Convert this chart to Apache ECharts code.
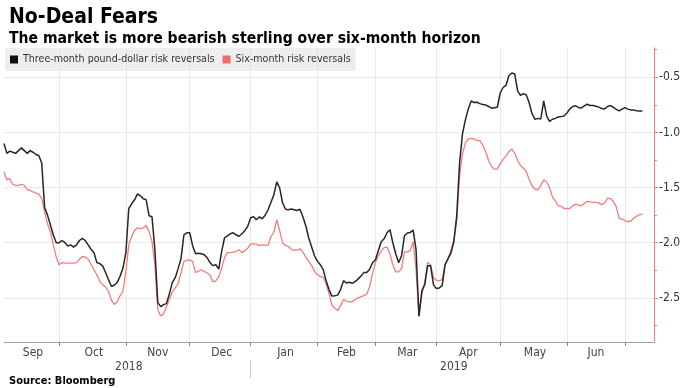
<!DOCTYPE html>
<html><head><meta charset="utf-8">
<script src="https://cdn.jsdelivr.net/npm/echarts@6/dist/echarts.min.js"></script>
<style>html,body{margin:0;padding:0;background:#fff}#c{width:693px;height:388px}</style>
</head><body><div id="c"></div>
<script>
// ---- data ----
const startDate = '2018-09-04';
const endDate = '2019-07-15';
const monthNames = ['Jan','Feb','Mar','Apr','May','Jun','Jul','Aug','Sep','Oct','Nov','Dec'];
const seriesNames = ['Three-month pound-dollar risk reversals', 'Six-month risk reversals'];
const threeMonth = [
-1.10,-1.19,-1.17,-1.18,-1.19,-1.165,-1.14,-1.165,-1.19,-1.165,
-1.18,-1.20,-1.21,-1.28,-1.68,-1.75,-1.84,-1.93,-2.00,-2.00,
-1.98,-2.00,-2.03,-2.02,-2.04,-2.02,-1.98,-1.96,-1.98,-2.02,
-2.06,-2.09,-2.18,-2.19,-2.21,-2.27,-2.335,-2.395,-2.385,-2.36,
-2.305,-2.23,-2.09,-1.69,-1.647,-1.611,-1.557,-1.575,-1.602,-1.611,
-1.756,-1.765,-2.063,-2.543,-2.579,-2.561,-2.552,-2.462,-2.362,-2.317,
-2.235,-2.145,-1.928,-1.91,-1.91,-2.027,-2.10,-2.095,-2.10,-2.109,
-2.136,-2.181,-2.208,-2.199,-2.24,-2.081,-1.955,-1.937,-1.919,-1.91,
-1.928,-1.941,-1.919,-1.891,-1.851,-1.774,-1.765,-1.792,-1.765,-1.783,
-1.751,-1.701,-1.633,-1.566,-1.448,-1.502,-1.638,-1.697,-1.701,-1.695,
-1.701,-1.708,-1.697,-1.765,-1.846,-1.955,-2.036,-2.118,-2.167,-2.199,
-2.244,-2.344,-2.425,-2.484,-2.48,-2.475,-2.425,-2.344,-2.365,-2.359,
-2.368,-2.353,-2.33,-2.303,-2.271,-2.269,-2.24,-2.181,-2.154,-2.072,
-1.991,-1.964,-1.91,-1.882,-2.0,-2.10,-2.181,-2.118,-1.937,-1.912,
-1.907,-1.886,-2.063,-2.667,-2.434,-2.38,-2.208,-2.208,-2.38,-2.416,
-2.41,-2.389,-2.199,-2.145,-2.095,-1.991,-1.762,-1.276,-1.014,-0.887,
-0.787,-0.715,-0.73,-0.727,-0.739,-0.747,-0.751,-0.765,-0.781,-0.776,
-0.772,-0.643,-0.593,-0.573,-0.484,-0.462,-0.471,-0.624,-0.665,-0.649,
-0.661,-0.733,-0.833,-0.882,-0.873,-0.878,-0.715,-0.851,-0.90,-0.881,
-0.873,-0.86,-0.857,-0.851,-0.824,-0.787,-0.765,-0.759,-0.774,-0.778,
-0.76,-0.745,-0.756,-0.757,-0.763,-0.771,-0.783,-0.787,-0.765,-0.757,
-0.772,-0.792,-0.805,-0.789,-0.776,-0.789,-0.796,-0.796,-0.804,-0.805,
-0.805
];
const sixMonth = [
-1.36,-1.43,-1.42,-1.47,-1.48,-1.48,-1.47,-1.48,-1.52,-1.525,
-1.54,-1.55,-1.56,-1.60,-1.72,-1.83,-1.90,-2.02,-2.13,-2.20,
-2.18,-2.185,-2.185,-2.185,-2.185,-2.18,-2.15,-2.125,-2.13,-2.15,
-2.195,-2.245,-2.29,-2.35,-2.38,-2.40,-2.44,-2.52,-2.56,-2.535,
-2.48,-2.44,-2.26,-2.02,-1.94,-1.89,-1.865,-1.875,-1.865,-1.845,
-1.90,-1.99,-2.20,-2.605,-2.665,-2.645,-2.58,-2.515,-2.445,-2.41,
-2.37,-2.27,-2.17,-2.16,-2.155,-2.17,-2.27,-2.26,-2.245,-2.26,
-2.275,-2.295,-2.355,-2.345,-2.31,-2.23,-2.135,-2.09,-2.09,-2.085,
-2.08,-2.065,-2.09,-2.07,-2.05,-2.01,-2.01,-2.015,-2.025,-2.02,
-2.025,-2.02,-1.945,-1.905,-1.79,-1.89,-2.00,-2.025,-2.035,-2.06,
-2.07,-2.065,-2.055,-2.085,-2.13,-2.17,-2.205,-2.26,-2.29,-2.305,
-2.315,-2.37,-2.46,-2.565,-2.595,-2.615,-2.57,-2.515,-2.53,-2.535,
-2.535,-2.515,-2.50,-2.49,-2.48,-2.465,-2.40,-2.28,-2.18,-2.12,
-2.075,-2.045,-2.04,-2.10,-2.20,-2.265,-2.265,-2.235,-2.08,-2.085,
-2.07,-1.99,-2.245,-2.665,-2.47,-2.355,-2.18,-2.20,-2.315,-2.34,
-2.345,-2.335,-2.20,-2.15,-2.07,-1.985,-1.81,-1.395,-1.195,-1.095,
-1.06,-1.055,-1.06,-1.075,-1.075,-1.115,-1.175,-1.255,-1.31,-1.335,
-1.33,-1.285,-1.245,-1.215,-1.175,-1.15,-1.19,-1.255,-1.30,-1.325,
-1.355,-1.43,-1.485,-1.515,-1.52,-1.48,-1.43,-1.45,-1.50,-1.585,
-1.62,-1.665,-1.67,-1.69,-1.69,-1.69,-1.665,-1.65,-1.66,-1.665,
-1.645,-1.625,-1.63,-1.635,-1.635,-1.64,-1.655,-1.64,-1.595,-1.60,
-1.625,-1.675,-1.78,-1.785,-1.80,-1.81,-1.805,-1.775,-1.76,-1.745,
-1.74
];
const yMajorTicks = [-2.5, -2.0, -1.5, -1.0, -0.5];
const yMinorTicks = [-2.75, -2.25, -1.75, -1.25, -0.75, -0.25];
const yMin = -2.9, yMax = -0.235;

// ---- weekday categories ----
function weekdays(s, e) {
  const out = [];
  let d = new Date(s + 'T00:00:00Z');
  const end = new Date(e + 'T00:00:00Z');
  while (d <= end) {
    const w = d.getUTCDay();
    if (w !== 0 && w !== 6) out.push(d.toISOString().slice(0, 10));
    d = new Date(d.getTime() + 86400000);
  }
  return out;
}
const categories = weekdays(startDate, endDate);
const last = categories.length - 1;

// month segments
const monthStarts = [];
const yearStarts = [];
categories.forEach((c, i) => {
  if (i > 0 && c.slice(5, 7) !== categories[i - 1].slice(5, 7)) monthStarts.push(i);
  if (i > 0 && c.slice(0, 4) !== categories[i - 1].slice(0, 4)) yearStarts.push(i);
});
const monthStartSet = new Set(monthStarts);
const monthLabelSet = new Set();
const mb = [0].concat(monthStarts, [last]);
for (let k = 0; k < mb.length - 1; k++) {
  if (mb[k + 1] - mb[k] >= 15) monthLabelSet.add(Math.round((mb[k] + mb[k + 1]) / 2));
}
const yearTickSet = new Set(yearStarts);
const yearLabelSet = new Set();
const yb = [0].concat(yearStarts, [last]);
for (let k = 0; k < yb.length - 1; k++) yearLabelSet.add(Math.round((yb[k] + yb[k + 1]) / 2));

const FONT = '"DejaVu Sans Condensed", "DejaVu Sans", sans-serif';
const red = '#f47c7c';

const chart = echarts.init(document.getElementById('c'), null, {renderer: 'canvas'});
chart.setOption({
  animation: false,
  backgroundColor: '#fff',
  textStyle: {fontFamily: FONT},
  title: [
    {text: 'No-Deal Fears', left: 4, top: 2, textStyle: {fontSize: 21, fontWeight: 'bold', color: '#000', fontFamily: FONT}},
    {text: 'The market is more bearish sterling over six-month horizon', left: 4, top: 26, textStyle: {fontSize: 15.6, fontWeight: 'bold', color: '#000', fontFamily: FONT}},
    {text: 'Source: Bloomberg', left: 4, top: 371, textStyle: {fontSize: 11, fontWeight: 'bold', color: '#000', fontFamily: FONT}}
  ],
  legend: {
    left: 5, top: 48, itemWidth: 8, itemHeight: 8, itemGap: 8,
    padding: [6, 5, 6, 5],
    backgroundColor: 'rgba(222,222,222,0.5)',
    icon: 'rect',
    textStyle: {fontSize: 10.6, color: '#333', fontFamily: FONT},
    data: seriesNames
  },
  grid: {left: 4, right: 39, top: 48, bottom: 46},
  xAxis: [
    {
      type: 'category', data: categories, boundaryGap: false,
      axisLine: {show: true, lineStyle: {color: '#a0a0a0'}},
      axisTick: {show: true, interval: (i) => monthStartSet.has(i), length: 4, lineStyle: {color: '#888'}},
      splitLine: {show: true, interval: (i) => monthStartSet.has(i), lineStyle: {color: '#e9e9e9'}},
      axisLabel: {interval: (i) => monthLabelSet.has(i), formatter: (v) => monthNames[+v.slice(5, 7) - 1],
        color: '#444', fontSize: 12, margin: 5, fontFamily: FONT}
    },
    {
      type: 'category', data: categories, boundaryGap: false, position: 'bottom', offset: 18,
      axisLine: {show: false},
      axisTick: {show: true, interval: (i) => yearTickSet.has(i), length: 18, lineStyle: {color: '#c8c8c8'}},
      splitLine: {show: false},
      axisLabel: {interval: (i) => yearLabelSet.has(i), formatter: (v) => v.slice(0, 4),
        color: '#444', fontSize: 12, margin: 1, fontFamily: FONT}
    }
  ],
  yAxis: [
    {
      type: 'value', position: 'right', min: yMin, max: yMax,
      axisLine: {show: true, lineStyle: {color: red}},
      axisTick: {show: true, customValues: yMajorTicks, length: 4, lineStyle: {color: red}},
      splitLine: {show: true, lineStyle: {color: '#e9e9e9'}},
      axisLabel: {customValues: yMajorTicks, formatter: (v) => v.toFixed(1), color: '#333', fontSize: 12, margin: 5, fontFamily: FONT}
    },
    {
      type: 'value', position: 'right', min: yMin, max: yMax,
      axisLine: {show: false},
      axisTick: {show: true, customValues: yMinorTicks, length: 3, lineStyle: {color: red}},
      splitLine: {show: false},
      axisLabel: {show: false}
    }
  ],
  series: [
    {name: seriesNames[1], type: 'line', data: sixMonth, showSymbol: false, symbol: 'none',
      lineStyle: {color: red, width: 1.3}, itemStyle: {color: '#f26b6b'}, z: 2},
    {name: seriesNames[0], type: 'line', data: threeMonth, showSymbol: false, symbol: 'none',
      lineStyle: {color: '#262626', width: 1.5}, itemStyle: {color: '#111'}, z: 3}
  ]
});
</script>
</body></html>
